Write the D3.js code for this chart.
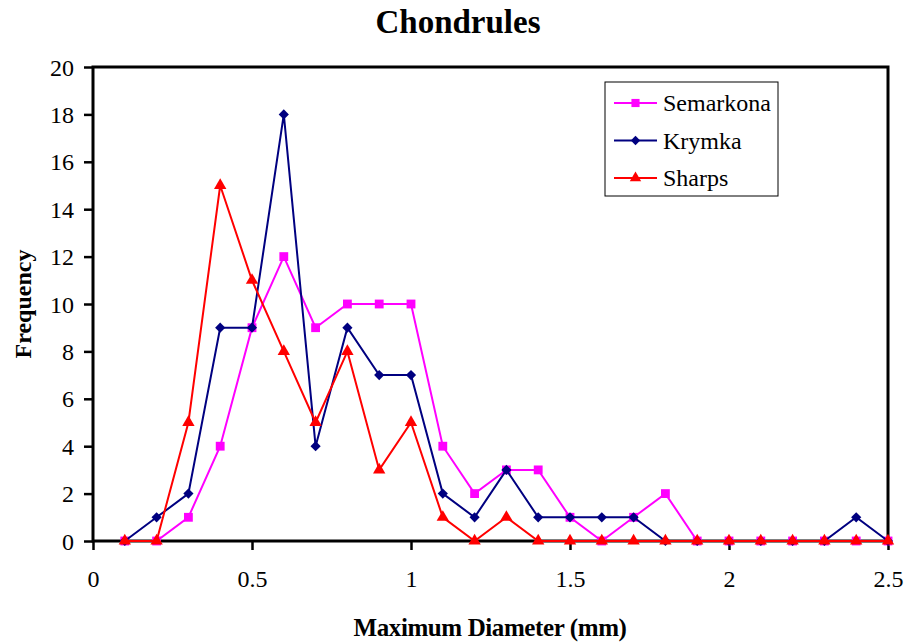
<!DOCTYPE html>
<html>
<head>
<meta charset="utf-8">
<script src="https://cdn.jsdelivr.net/npm/d3@7/dist/d3.min.js"></script>
<style>
  html, body { margin: 0; padding: 0; background: #fff; }
  svg { display: block; }
  svg text { font-family: "Times New Roman", "Liberation Serif", "DejaVu Serif", serif; }
</style>
</head>
<body>
<svg id="chart" width="907" height="644"></svg>
<script>
// Chondrule size distributions, bins of maximum diameter (mm)
const diameters = [0.1,0.2,0.3,0.4,0.5,0.6,0.7,0.8,0.9,1.0,1.1,1.2,1.3,1.4,1.5,1.6,1.7,1.8,1.9,2.0,2.1,2.2,2.3,2.4,2.5];
const semarkona = [0,0,1,4,9,12,9,10,10,10,4,2,3,3,1,0,1,2,0,0,0,0,0,0,0];
const krymka    = [0,1,2,9,9,18,4,9,7,7,2,1,3,1,1,1,1,0,0,0,0,0,0,1,0];
const sharps    = [0,0,5,15,11,8,5,8,3,5,1,0,1,0,0,0,0,0,0,0,0,0,0,0,0];
const xTicks = [0,0.5,1,1.5,2,2.5];
const yTicks = [0,2,4,6,8,10,12,14,16,18,20];

const series = [
  { name: "Semarkona", values: semarkona, color: "#ff00ff", symbol: d3.symbolSquare,   size: 78, rot: 0 },
  { name: "Krymka",    values: krymka,    color: "#000080", symbol: d3.symbolSquare,   size: 52, rot: 45 },
  { name: "Sharps",    values: sharps,    color: "#ff0000", symbol: d3.symbolTriangle, size: 66, rot: 0 }
];

const svg = d3.select("#chart");
const plotLeft = 93, plotRight = 888, plotTop = 67, plotBottom = 541;

const x = d3.scaleLinear().domain([0, 2.5]).range([plotLeft, plotRight]);
const y = d3.scaleLinear().domain([0, 20]).range([plotBottom, plotTop]);

// Title
svg.append("text").attr("x", 458).attr("y", 33).attr("text-anchor", "middle")
  .style("font-size", "33px").style("font-weight", "bold")
  .text("Chondrules");

// Axes
const yAxis = svg.append("g").attr("transform", `translate(${plotLeft},0)`)
  .call(d3.axisLeft(y).tickValues(yTicks).tickSize(9).tickPadding(10).tickFormat(d3.format("d")));
const xAxis = svg.append("g").attr("transform", `translate(0,${plotBottom})`)
  .call(d3.axisBottom(x).tickValues(xTicks).tickSize(9).tickPadding(20).tickFormat(d => String(d)));
[xAxis, yAxis].forEach(g => {
  g.attr("font-family", null).attr("font-size", null);
  g.select(".domain").remove();
  g.selectAll(".tick line").attr("stroke", "#000").attr("stroke-width", 2.5);
  g.selectAll(".tick text").attr("fill", "#000").style("font-size", "24px");
});
yAxis.selectAll(".tick text").attr("dy", "0.34em");
xAxis.selectAll(".tick text").attr("dy", "0.71em");

// Plot frame
svg.append("rect").attr("x", plotLeft).attr("y", plotTop)
  .attr("width", plotRight - plotLeft).attr("height", plotBottom - plotTop)
  .attr("fill", "none").attr("stroke", "#000").attr("stroke-width", 3);

// Series lines and markers
const line = d3.line().x((d, i) => x(diameters[i])).y(d => y(d));
series.forEach(s => {
  const g = svg.append("g");
  g.append("path").datum(s.values).attr("d", line)
    .attr("fill", "none").attr("stroke", s.color).attr("stroke-width", 2);
  g.selectAll("path.pt").data(s.values).join("path").attr("class", "pt")
    .attr("transform", (d, i) => `translate(${x(diameters[i])},${y(d)}) rotate(${s.rot})`)
    .attr("d", d3.symbol().type(s.symbol).size(s.size))
    .attr("fill", s.color);
});

// Axis titles
svg.append("text").attr("x", 490).attr("y", 636).attr("text-anchor", "middle")
  .style("font-size", "25px").style("font-weight", "bold")
  .attr("letter-spacing", -0.4)
  .text("Maximum Diameter (mm)");
svg.append("text").attr("transform", "translate(31,304) rotate(-90)").attr("text-anchor", "middle")
  .style("font-size", "24px").style("font-weight", "bold")
  .text("Frequency");

// Legend
const lg = svg.append("g");
lg.append("rect").attr("x", 605).attr("y", 82).attr("width", 173).attr("height", 114)
  .attr("fill", "#fff").attr("stroke", "#000").attr("stroke-width", 1);
series.forEach((s, i) => {
  const cy = 103 + i * 37.5;
  lg.append("line").attr("x1", 614).attr("x2", 657).attr("y1", cy).attr("y2", cy)
    .attr("stroke", s.color).attr("stroke-width", 2);
  lg.append("path").attr("transform", `translate(635.5,${cy}) rotate(${s.rot})`)
    .attr("d", d3.symbol().type(s.symbol).size(s.size * 0.85)).attr("fill", s.color);
  lg.append("text").attr("x", 663).attr("y", cy + 8)
    .style("font-size", "24px").text(s.name);
});
</script>
</body>
</html>
